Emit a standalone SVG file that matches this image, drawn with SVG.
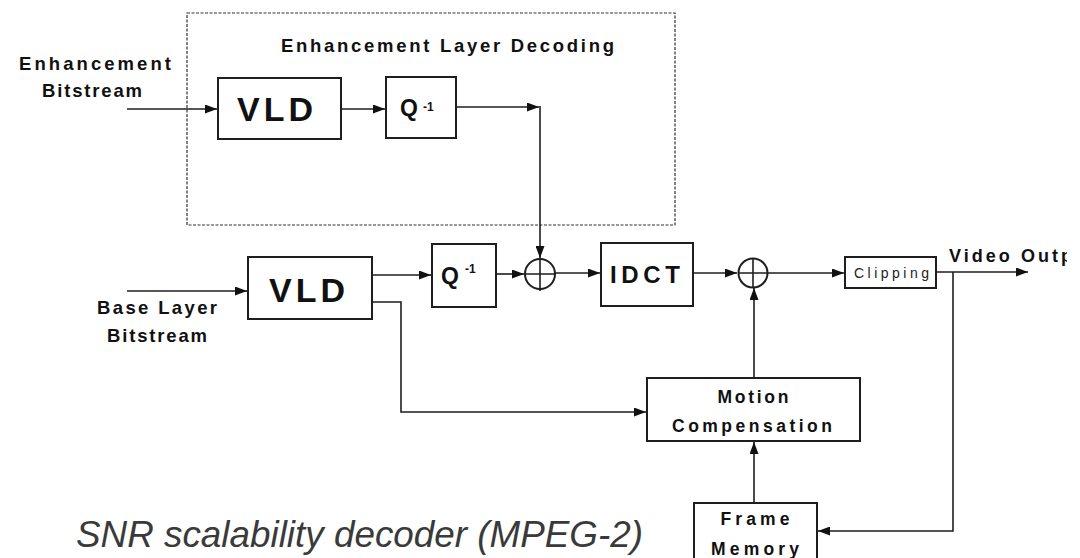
<svg xmlns="http://www.w3.org/2000/svg" width="1080" height="558" viewBox="0 0 1080 558">
<style>
.box{fill:#fff;stroke:#1e1e1e;stroke-width:2}
.ln{fill:none;stroke:#1e1e1e;stroke-width:1.6}
.t{font-family:"Liberation Sans",Arial,sans-serif;fill:#111;font-weight:bold}
.r{font-family:"Liberation Sans",Arial,sans-serif;fill:#222}
.big{font-size:34px}
.q{font-size:23px}
.sup{font-size:12px}
.lab{font-size:18.5px}
.mid{font-size:17.5px;text-anchor:middle}
</style>
<defs>
<marker id="ah" viewBox="0 0 12 9" refX="12" refY="4.5" markerUnits="userSpaceOnUse" markerWidth="12" markerHeight="9" orient="auto">
<path d="M0,0 L12,4.5 L0,9 z" fill="#111"/>
</marker>
<clipPath id="clipEdge"><rect x="0" y="0" width="1067" height="558"/></clipPath>
</defs>
<rect width="1080" height="558" fill="#fff"/>

<g id="enh-layer">
<rect x="187" y="13" width="488" height="212" fill="none" stroke="#333" stroke-width="1.2" stroke-dasharray="3 1.5"/>
<text class="t lab" x="281" y="52" textLength="333" lengthAdjust="spacing">Enhancement Layer Decoding</text>
</g>

<g id="enh-input-label">
<text class="t lab" x="19" y="70" textLength="152" lengthAdjust="spacing">Enhancement</text>
<text class="t lab" x="42" y="97" textLength="100" lengthAdjust="spacing">Bitstream</text>
</g>

<g id="base-input-label">
<text class="t lab" x="97" y="314" textLength="120" lengthAdjust="spacing">Base Layer</text>
<text class="t lab" x="107" y="342" textLength="100" lengthAdjust="spacing">Bitstream</text>
</g>

<g id="vld-enh">
<rect class="box" x="218" y="78" width="123" height="61"/>
<text class="t big" x="237" y="121" textLength="76" lengthAdjust="spacing">VLD</text>
</g>

<g id="q-enh">
<rect class="box" x="386" y="77" width="70" height="61"/>
<text class="t q" x="400" y="116">Q</text>
<text class="t sup" x="423" y="111">-1</text>
</g>

<g id="vld-base">
<rect class="box" x="248" y="257" width="124" height="62"/>
<text class="t big" x="269" y="302" textLength="76" lengthAdjust="spacing">VLD</text>
</g>

<g id="q-base">
<rect class="box" x="432" y="244" width="64" height="63"/>
<text class="t q" x="441" y="284">Q</text>
<text class="t sup" x="465" y="273">-1</text>
</g>

<g id="adder1">
<circle cx="540" cy="274" r="15" fill="#fff" stroke="#1e1e1e" stroke-width="2"/>
<path class="ln" d="M525,274 H555 M540,259 V291"/>
</g>

<g id="idct">
<rect class="box" x="601" y="243" width="92" height="63"/>
<text class="t" font-size="24" x="610" y="283" textLength="70" lengthAdjust="spacing">IDCT</text>
</g>

<g id="adder2">
<circle cx="753" cy="273" r="14.5" fill="#fff" stroke="#1e1e1e" stroke-width="2"/>
<path class="ln" d="M738.5,273 H767.5 M753,258.5 V287.5"/>
</g>

<g id="clipping">
<rect class="box" x="845" y="257" width="91" height="31"/>
<text class="r" font-size="14" x="854" y="278" textLength="75" lengthAdjust="spacing">Clipping</text>
</g>

<g id="video-output-label" clip-path="url(#clipEdge)">
<text class="t" font-size="18" x="949" y="262" textLength="123" lengthAdjust="spacing">Video Outp</text>
</g>

<g id="motion-comp">
<rect class="box" x="647" y="378" width="213" height="63"/>
<text class="t mid" x="753" y="403" textLength="71" lengthAdjust="spacing">Motion</text>
<text class="t mid" x="752" y="432" textLength="160" lengthAdjust="spacing">Compensation</text>
</g>

<g id="frame-memory">
<rect class="box" x="694" y="503" width="123" height="70"/>
<text class="t mid" x="755" y="525" textLength="69" lengthAdjust="spacing">Frame</text>
<text class="t mid" x="755" y="555" textLength="88" lengthAdjust="spacing">Memory</text>
</g>

<g id="connectors">
<path class="ln" d="M127,109 H217" marker-end="url(#ah)"/>
<path class="ln" d="M341,109 H385" marker-end="url(#ah)"/>
<path class="ln" d="M456,107 H539" marker-end="url(#ah)"/>
<path class="ln" d="M540,106 V258" marker-end="url(#ah)"/>
<path class="ln" d="M127,291 H247" marker-end="url(#ah)"/>
<path class="ln" d="M372,275 H431" marker-end="url(#ah)"/>
<path class="ln" d="M496,274 H524" marker-end="url(#ah)"/>
<path class="ln" d="M555,273 H600" marker-end="url(#ah)"/>
<path class="ln" d="M693,273 H737" marker-end="url(#ah)"/>
<path class="ln" d="M767.5,273 H844" marker-end="url(#ah)"/>
<path class="ln" d="M936,272 H1028" marker-end="url(#ah)"/>
<path class="ln" d="M953,272 V531 H818" marker-end="url(#ah)"/>
<path class="ln" d="M754,503 V442" marker-end="url(#ah)"/>
<path class="ln" d="M754,378 V288" marker-end="url(#ah)"/>
<path class="ln" d="M372,302 H401 V412 H646" marker-end="url(#ah)"/>
</g>

<text id="caption" x="76" y="547" font-family="'Liberation Sans',Arial,sans-serif" font-style="italic" font-size="37" fill="#3a3a3a" textLength="567" lengthAdjust="spacingAndGlyphs">SNR scalability decoder (MPEG-2)</text>
</svg>
